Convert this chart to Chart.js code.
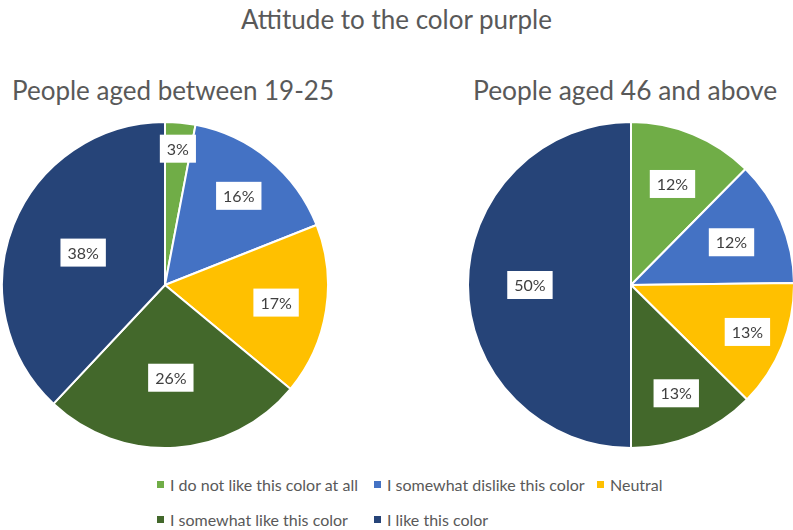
<!DOCTYPE html>
<html>
<head>
<meta charset="utf-8">
<script src="https://cdn.jsdelivr.net/npm/chart.js@4.4.0/dist/chart.umd.min.js"></script>
<style>
  body { margin: 0; width: 793px; height: 530px; overflow: hidden; background: #fff; font-family: Lato, "Open Sans", sans-serif; color: #595959; position: relative; }
  .title { position: absolute; left: 0; width: 793px; top: 3px; text-align: center; font-size: 26px; }
  .sub { position: absolute; font-size: 26px; top: 74px; white-space: nowrap; }
  #left-wrap { position: absolute; left: 1px; top: 121px; width: 328px; height: 328px; }
  #right-wrap { position: absolute; left: 467px; top: 121px; width: 328px; height: 328px; }
  #legend { position: absolute; left: 157px; top: 475px; display: grid; grid-template-columns: 217px 223px auto; row-gap: 16px; font-size: 16px; }
  .item { display: flex; align-items: center; white-space: nowrap; }
  .box { width: 7px; height: 7px; margin-right: 6px; }
</style>
</head>
<body>
<div class="title">Attitude to the color purple</div>
<div class="sub" style="left:12px">People aged between 19-25</div>
<div class="sub" style="left:473px; font-size:26.4px">People aged 46 and above</div>
<div id="left-wrap"><canvas id="left-chart"></canvas></div>
<div id="right-wrap"><canvas id="right-chart"></canvas></div>
<div id="legend"></div>
<script>
const categories = ["I do not like this color at all", "I somewhat dislike this color", "Neutral", "I somewhat like this color", "I like this color"];
const youngValues = [3, 16, 17, 26, 38];
const olderValues = [12.4, 12.4, 12.6, 12.6, 50];
const sliceColors = ["#70AD47", "#4472C4", "#FFC000", "#43682B", "#264478"];
// how far out (share of radius) each label box sits, like Excel's best fit
const youngLabelPos = [0.84, 0.71, 0.69, 0.57, 0.54];
const olderLabelPos = [0.67, 0.67, 0.77, 0.72, 0.62];

// white boxes with percentages inside the slices
const pctLabels = {
  id: "pctLabels",
  afterDatasetsDraw(chart, args, opts) {
    const ctx = chart.ctx;
    const data = chart.data.datasets[0].data;
    const total = data.reduce((a, b) => a + b, 0);
    ctx.save();
    ctx.font = "16px Lato, 'Open Sans', sans-serif";
    ctx.textAlign = "center";
    ctx.textBaseline = "middle";
    chart.getDatasetMeta(0).data.forEach((arc, i) => {
      const share = data[i] / total;
      const mid = (arc.startAngle + arc.endAngle) / 2;
      const f = opts.pos[i];
      const x = arc.x + Math.cos(mid) * arc.outerRadius * f;
      const y = arc.y + Math.sin(mid) * arc.outerRadius * f;
      const txt = Math.round(share * 100) + "%";
      const w = ctx.measureText(txt).width + 14;
      ctx.fillStyle = "#fff";
      ctx.fillRect(x - w / 2, y - 14, w, 28);
      ctx.fillStyle = "#404040";
      ctx.fillText(txt, x, y + 1);
    });
    ctx.restore();
  }
};

const makePie = (id, values, labelPos) => new Chart(document.getElementById(id), {
  type: "pie",
  data: {
    labels: categories,
    datasets: [{
      data: values,
      backgroundColor: sliceColors,
      borderColor: "#fff",
      borderWidth: 2
    }]
  },
  options: {
    responsive: true,
    maintainAspectRatio: false,
    animation: false,
    layout: { padding: 0 },
    plugins: {
      legend: { display: false },
      tooltip: { enabled: false },
      pctLabels: { pos: labelPos }
    }
  },
  plugins: [pctLabels]
});

makePie("left-chart", youngValues, youngLabelPos);
makePie("right-chart", olderValues, olderLabelPos);

// legend
const legend = document.getElementById("legend");
categories.forEach((c, i) => {
  legend.innerHTML += `<div class="item"><span class="box" style="background:${sliceColors[i]}"></span>${c}</div>`;
});
</script>
</body>
</html>
